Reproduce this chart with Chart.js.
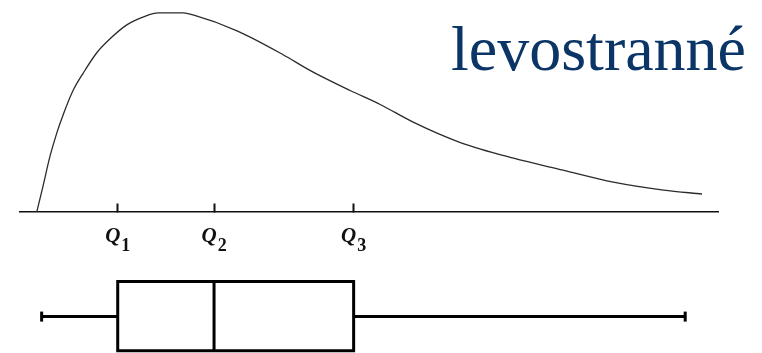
<!DOCTYPE html>
<html>
<head>
<meta charset="utf-8">
<script src="https://cdn.jsdelivr.net/npm/chart.js@4"></script>
<style>
	html, body { margin: 0; padding: 0; background: #fff; }
	#wrap { position: relative; width: 762px; height: 353px; }
</style>
</head>
<body>
<div id="wrap"><canvas id="chart-skew"></canvas></div>
<script>
// Density curve (x in axis units 0..100, y relative to the peak)
const CURVE_X = [2.4, 3.3, 4.3, 5.3, 6.2, 7.6, 9.1, 11.0, 12.9, 15.3, 17.7, 19.8, 21.5, 23.4, 24.8, 31.1, 37.7, 41.6, 47.3, 51.6, 56.4, 63.0, 70.7, 77.8, 85.0, 92.2, 97.7];
const CURVE_Y = [0, 0.13, 0.28, 0.4, 0.49, 0.61, 0.7, 0.8, 0.87, 0.94, 0.98, 1.0, 1.0, 1.0, 0.99, 0.91, 0.79, 0.71, 0.61, 0.54, 0.45, 0.35, 0.27, 0.21, 0.15, 0.11, 0.09];

// Quartiles and whisker ends
const QUARTILES = [14.0, 27.8, 47.8];
const QUARTILE_SUBS = ["1", "2", "3"];
const WHISKERS = [3.1, 95.3];

const TITLE = "levostranné";

// Layout of the box plot below the axis (in y units)
const BOX_TOP = -0.35;
const BOX_BOTTOM = -0.698;
const BOX_MID = -0.526;

const INK = "#000";

const lineDefaults = {
	showLine: true,
	fill: false,
	tension: 0,
	pointRadius: 0,
	clip: false,
	borderColor: INK,
	borderWidth: 3,
};

const CHART_DATA = {
	datasets: [
		{
			label: "density",
			data: CURVE_X.map((x, i) => ({ x: x, y: CURVE_Y[i] })),
			showLine: true,
			fill: false,
			cubicInterpolationMode: "monotone",
			pointRadius: 0,
			clip: false,
			borderColor: "#2b2b2b",
			borderWidth: 1.3,
		},
		{
			...lineDefaults,
			label: "box",
			borderJoinStyle: "miter",
			borderCapStyle: "square",
			data: [
				{ x: QUARTILES[0], y: BOX_TOP },
				{ x: QUARTILES[2], y: BOX_TOP },
				{ x: QUARTILES[2], y: BOX_BOTTOM },
				{ x: QUARTILES[0], y: BOX_BOTTOM },
				{ x: QUARTILES[0], y: BOX_TOP },
			],
		},
		{
			...lineDefaults,
			label: "median",
			data: [
				{ x: QUARTILES[1], y: BOX_TOP },
				{ x: QUARTILES[1], y: BOX_BOTTOM },
			],
		},
		{
			...lineDefaults,
			label: "whisker low",
			pointStyle: "line",
			rotation: 90,
			pointRadius: [5, 0],
			pointBorderWidth: 3,
			pointBorderColor: INK,
			data: [
				{ x: WHISKERS[0], y: BOX_MID },
				{ x: QUARTILES[0], y: BOX_MID },
			],
		},
		{
			...lineDefaults,
			label: "whisker high",
			pointStyle: "line",
			rotation: 90,
			pointRadius: [0, 5],
			pointBorderWidth: 3,
			pointBorderColor: INK,
			data: [
				{ x: QUARTILES[2], y: BOX_MID },
				{ x: WHISKERS[1], y: BOX_MID },
			],
		},
	],
};

// Quartile labels "Q" with subscripts, and the title text
const labelsPlugin = {
	id: "quartileLabels",
	afterDraw(chart) {
		const { ctx, scales } = chart;
		const axisY = scales.y.getPixelForValue(0);
		ctx.save();
		ctx.fillStyle = "#111";
		ctx.textBaseline = "alphabetic";
		QUARTILES.forEach((q, i) => {
			const px = scales.x.getPixelForValue(q);
			ctx.font = "italic bold 21px 'Liberation Serif'";
			const wQ = ctx.measureText("Q").width;
			ctx.font = "bold 18px 'Liberation Serif'";
			const wS = ctx.measureText(QUARTILE_SUBS[i]).width;
			const x0 = px - (wQ + wS + 1) / 2;
			ctx.font = "italic bold 21px 'Liberation Serif'";
			ctx.fillText("Q", x0, axisY + 30);
			ctx.font = "bold 18px 'Liberation Serif'";
			ctx.fillText(QUARTILE_SUBS[i], x0 + wQ + 1, axisY + 39);
		});
		ctx.font = "64px 'Liberation Serif'";
		ctx.fillStyle = "#0a3566";
		ctx.fillText(TITLE, 451, 70);
		ctx.restore();
	},
};

const CHART_CONFIG = {
	type: "scatter",
	data: CHART_DATA,
	options: {
		responsive: true,
		maintainAspectRatio: false,
		animation: false,
		events: [],
		layout: {
			autoPadding: false,
			padding: { left: 20, right: 44, top: 0, bottom: 0 },
		},
		scales: {
			x: {
				type: "linear",
				position: { y: 0 },
				min: 0,
				max: 100,
				afterBuildTicks: (scale) => {
					scale.ticks = QUARTILES.map((v) => ({ value: v }));
				},
				border: {
					display: true,
					color: "#111",
					width: 1.5,
				},
				grid: {
					drawOnChartArea: false,
					drawTicks: true,
					tickLength: -9,
					tickWidth: 2,
					tickColor: "#111",
				},
				ticks: {
					display: false,
				},
			},
			y: {
				display: false,
				min: -0.709,
				max: 1.065,
			},
		},
		plugins: {
			legend: { display: false },
			tooltip: { enabled: false },
		},
	},
	plugins: [labelsPlugin],
};

new Chart(document.getElementById("chart-skew"), CHART_CONFIG);
</script>
</body>
</html>
